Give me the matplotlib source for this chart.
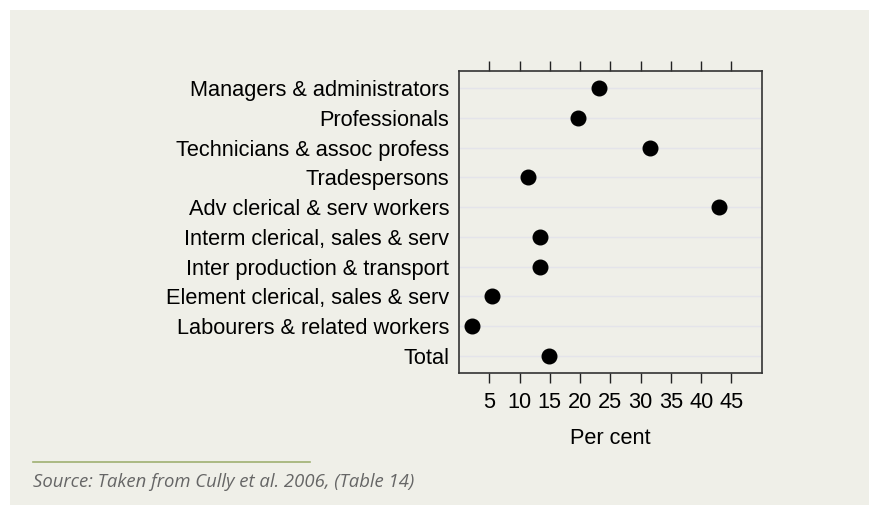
import numpy as np
import matplotlib
matplotlib.use('Agg')
import matplotlib.pyplot as plt
import matplotlib.patches as patches
from matplotlib.lines import Line2D

# data
occupations = [
    'Managers & administrators',
    'Professionals',
    'Technicians & assoc profess',
    'Tradespersons',
    'Adv clerical & serv workers',
    'Interm clerical, sales & serv',
    'Inter production & transport',
    'Element clerical, sales & serv',
    'Labourers & related workers',
    'Total',
]
per_cent = [23.1, 19.6, 31.5, 11.4, 43.0, 13.3, 13.3, 5.5, 2.2, 14.9]
x_ticks  = [5, 10, 15, 20, 25, 30, 35, 40, 45]

BG     = '#efefe8'
FONT   = 'Liberation Sans'
FS     = 15.7
W, H   = 869, 505

fig = plt.figure(figsize=(W / 100, H / 100), dpi=100, facecolor='white')

# panel background (leaves a thin white margin top/left)
fig.patches.append(patches.Rectangle(
    (10 / W, 0), 1 - 10 / W, 1 - 10 / H,
    transform=fig.transFigure, facecolor=BG, edgecolor='none', zorder=-5))

left, right = 459 / W, 761.7 / W
top, bottom = 1 - 70.7 / H, 1 - 373.3 / H
ax = fig.add_axes([left, bottom, right - left, top - bottom])
ax.set_facecolor(BG)

y = np.arange(len(occupations))
for yy in y:
    ax.axhline(yy, color='#e4e4ea', linewidth=1, zorder=1)

ax.plot(per_cent, y, 'o', color='black', markersize=10.5, zorder=3)

ax.set_xlim(0, 50)
ax.set_ylim(len(occupations) - 0.41, -0.59)

ax.set_xticks(x_ticks)
ax.set_xticklabels([str(t) for t in x_ticks], fontsize=FS, family=FONT)
ax.tick_params(axis='x', which='both', direction='out', length=7.5,
               width=1, color='#222222', top=True, labeltop=False, pad=6)
ax.set_yticks(y)
ax.set_yticklabels(occupations, fontsize=FS, family=FONT)
ax.tick_params(axis='y', length=0, pad=7)

for s in ax.spines.values():
    s.set_color('#333333')
    s.set_linewidth(1.2)

ax.set_xlabel('Per cent', fontsize=FS, family=FONT, labelpad=11)

# source note
fig.add_artist(Line2D([33 / W, 310 / W], [1 - 461.7 / H] * 2,
                      color='#9fb072', linewidth=1.2))
fig.text(33 / W, 1 - 482 / H, 'Source: Taken from Cully et al. 2006, (Table 14)',
         fontsize=13.3, style='italic', family='Open Sans', color='#666666',
         va='center', ha='left')

plt.savefig('out.png', dpi=100, facecolor='white')
plt.close()
